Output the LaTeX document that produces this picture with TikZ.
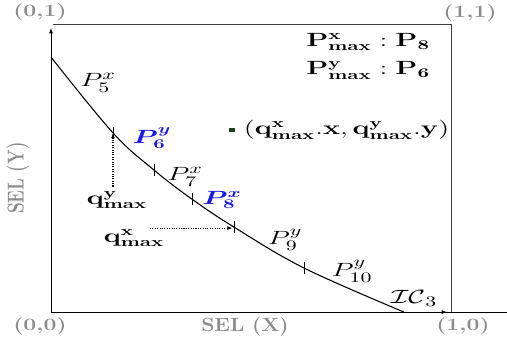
\documentclass[tikz,border=0pt]{standalone}
\usepackage{amsmath, amssymb, bm}
\usetikzlibrary{arrows.meta, positioning}
\definecolor{ptblue}{RGB}{25, 25, 235}
\definecolor{markgreen}{RGB}{30, 60, 30}

\begin{document}
\begin{tikzpicture}[x=10.58cm, y=7.62cm, font=\fontsize{14}{17}\selectfont,
    >={Latex[length=4pt, width=3pt]},
    wide/.style={xscale=1.5, transform shape},
    part/.style={wide, font=\fontsize{15}{18}\selectfont},
    corner/.style={xscale=1.33, transform shape, text=black!45, font=\fontsize{13}{15}\selectfont\bfseries},
    guide/.style={->, densely dotted, thick}]

  \useasboundingbox (-0.1275, -0.1111) rectangle (1.14, 1.0833);

  % Frame and axes
  \draw[semithick] (0, 0) -- (1.14, 0);
  \draw[semithick, ->] (0, 0) -- (0.99, 0);
  \draw[semithick, ->] (0, 0) -- (0, 0.986);
  \draw[semithick, black!75] (0.005, 1) -- (1, 1) -- (1, 0);

  % Corner and axis labels
  \node[corner] (c01) at (-0.0275, 1.042) {(0,1)};
  \node[corner] (c11) at (1.0475, 1.038) {(1,1)};
  \node[corner] (c00) at (-0.0275, -0.0486) {(0,0)};
  \node[corner] (c10) at (1.03, -0.0486) {(1,0)};
  \node[corner, xscale=0.83, font=\Large\bfseries] (selx) at (0.485, -0.052) {SEL (X)};
  \node[corner, rotate=90] (sely) at (-0.0825, 0.465) {SEL (Y)};

  % Partition boundaries on the curve
  \coordinate (t1) at (0.155, 0.622);
  \coordinate (t2) at (0.2575, 0.493);
  \coordinate (t3) at (0.3525, 0.392);
  \coordinate (t4) at (0.4575, 0.295);
  \coordinate (t5) at (0.6325, 0.153);

  \draw[thick] plot[smooth, tension=0.6] coordinates
    {(0, 0.885) (t1) (t2) (t3) (t4) (t5) (0.8825, 0)};
  \foreach \t in {t1, t2, t3, t4, t5}{
    \draw ([yshift=-4.5pt]\t) -- ([yshift=4.5pt]\t);
  }

  % Partition labels
  \node[part] (l5) at (0.1175, 0.795) {$P_5^x$};
  \node[wide, text=ptblue] (l6) at (0.2525, 0.604) {$\bm{P_6^y}$};
  \node[part] (l7) at (0.335, 0.469) {$P_7^x$};
  \node[wide, text=ptblue] (l8) at (0.4275, 0.389) {$\bm{P_8^x}$};
  \node[part] (l9) at (0.585, 0.25) {$P_9^y$};
  \node[part] (l10) at (0.7525, 0.142) {$P_{10}^y$};
  \node[part] (ic) at (0.9075, 0.0486) {$\mathcal{IC}_3$};

  % Query bounds
  \node[wide] (qy) at (0.165, 0.389) {$\mathbf{q^y_{max}}$};
  \node[wide] (qx) at (0.2075, 0.257) {$\mathbf{q^x_{max}}$};
  \coordinate (qxtail) at (0.2475, 0.2917);
  \draw[guide] (qy.north -| t1) -- (t1);
  \draw[guide, shorten >=1pt] (qxtail) -- (qxtail -| t4);

  % Max partitions
  \node[wide, anchor=east] (pmx) at (0.965, 0.9375) {$\mathbf{P^x_{max}} : \mathbf{P_8}$};
  \node[wide, anchor=east] (pmy) at (0.965, 0.840) {$\mathbf{P^y_{max}} : \mathbf{P_6}$};

  % Legend
  \node[fill=markgreen, inner sep=0pt, minimum width=5pt, minimum height=3.5pt] (mark) at (0.4525, 0.632) {};
  \node[wide, right=1pt of mark] (qpt)
        {$(\mathbf{q^x_{max}}.\mathbf{x}, \mathbf{q^y_{max}}.\mathbf{y})$};
\end{tikzpicture}
\end{document}
